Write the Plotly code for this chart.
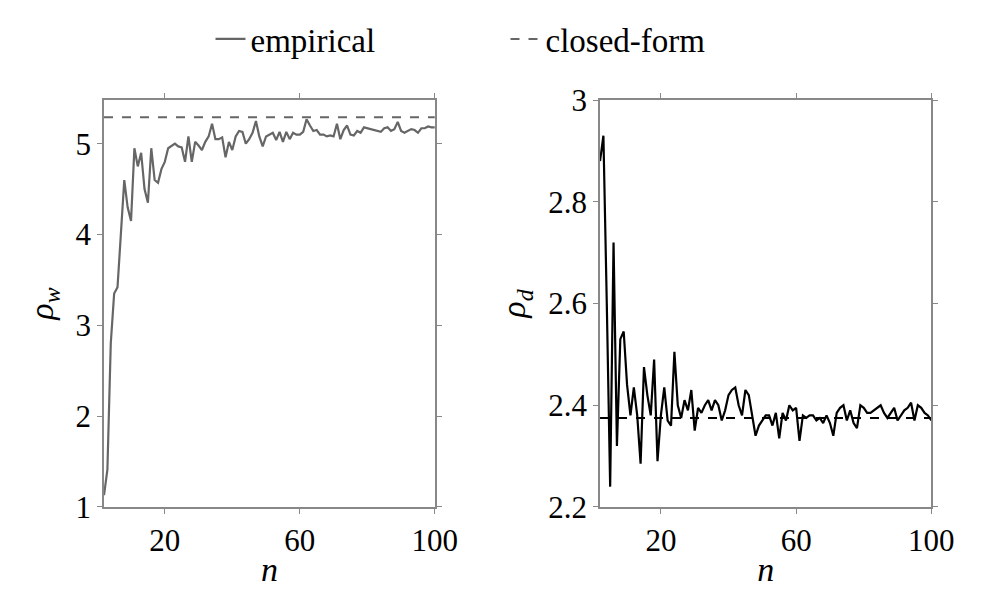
import plotly.graph_objects as go

n = list(range(2, 101))
rho_w = [1.13, 1.41, 2.8, 3.35, 3.42, 4.0, 4.6, 4.3, 4.15, 4.95, 4.75, 4.9, 4.5, 4.35, 4.95, 4.6, 4.57, 4.72, 4.8,
         4.95, 4.98, 5.0, 4.97, 4.96, 4.8, 5.08, 4.8, 5.02, 4.98, 4.93, 5.02, 5.08, 5.22, 5.05, 5.05, 5.07, 4.85,
         5.02, 4.93, 5.08, 5.14, 5.13, 5.0, 5.05, 5.12, 5.25, 5.08, 4.97, 5.08, 5.1, 5.12, 5.04, 5.13, 5.02, 5.13,
         5.05, 5.12, 5.1, 5.1, 5.13, 5.27, 5.2, 5.14, 5.15, 5.1, 5.1, 5.08, 5.09, 5.08, 5.22, 5.05, 5.15, 5.2, 5.1,
         5.09, 5.14, 5.12, 5.18, 5.17, 5.16, 5.15, 5.14, 5.13, 5.17, 5.18, 5.14, 5.16, 5.24, 5.14, 5.12, 5.14,
         5.16, 5.15, 5.12, 5.17, 5.17, 5.19, 5.18, 5.18]
rho_w_closed = 5.29
rho_d = [2.88, 2.93, 2.6, 2.24, 2.72, 2.32, 2.53, 2.545, 2.44, 2.38, 2.435, 2.38, 2.285, 2.475, 2.42, 2.38, 2.49,
         2.29, 2.38, 2.435, 2.37, 2.36, 2.505, 2.40, 2.375, 2.41, 2.39, 2.43, 2.35, 2.395, 2.385, 2.40, 2.41, 2.39,
         2.41, 2.40, 2.37, 2.39, 2.42, 2.43, 2.435, 2.40, 2.38, 2.43, 2.42, 2.375, 2.34, 2.36, 2.37, 2.38, 2.38,
         2.36, 2.385, 2.335, 2.385, 2.37, 2.40, 2.39, 2.395, 2.33, 2.38, 2.375, 2.38, 2.38, 2.37, 2.375, 2.365,
         2.38, 2.365, 2.34, 2.385, 2.395, 2.40, 2.37, 2.39, 2.365, 2.355, 2.40, 2.395, 2.385, 2.385, 2.39, 2.395,
         2.40, 2.385, 2.375, 2.385, 2.395, 2.37, 2.38, 2.39, 2.395, 2.405, 2.37, 2.40, 2.395, 2.385, 2.38, 2.37]
rho_d_closed = 2.375

FONT = "Liberation Serif"
fig = go.Figure()
fig.add_trace(go.Scatter(x=n, y=rho_w, mode="lines", line=dict(color="#666666", width=2.2),
                         name="empirical", xaxis="x", yaxis="y"))
fig.add_trace(go.Scatter(x=[n[0], n[-1]], y=[rho_w_closed] * 2, mode="lines",
                         line=dict(color="#666666", width=2, dash="dash"), name="closed-form", xaxis="x", yaxis="y"))
fig.add_trace(go.Scatter(x=n, y=rho_d, mode="lines", line=dict(color="black", width=2.2),
                         showlegend=False, xaxis="x2", yaxis="y2"))
fig.add_trace(go.Scatter(x=[n[0], n[-1]], y=[rho_d_closed] * 2, mode="lines",
                         line=dict(color="black", width=2, dash="dash"), showlegend=False, xaxis="x2", yaxis="y2"))

ax = dict(showgrid=False, zeroline=False, showline=True, linecolor="#888888", linewidth=1.5, mirror="ticks",
          ticks="outside", ticklen=5, tickcolor="#888888", automargin=False,
          tickfont=dict(family=FONT, size=31, color="black"))
tf = dict(size=34, family=FONT)
fig.update_layout(
    width=995, height=598, plot_bgcolor="white", paper_bgcolor="white",
    margin=dict(l=0, r=0, t=0, b=0),
    font=dict(family=FONT, color="black"),
    xaxis=dict(ax, domain=[0.0965, 0.429], range=[2, 100], tickvals=[20, 60, 100],
               title=dict(text="<i>n</i>", font=tf, standoff=0)),
    yaxis=dict(ax, domain=[0.1656, 0.846], range=[1, 5.48], tickvals=[1, 2, 3, 4, 5],
               title=dict(text="<i>ρ<sub>w</sub></i>", font=tf, standoff=12)),
    xaxis2=dict(ax, domain=[0.595, 0.928], range=[2, 100], tickvals=[20, 60, 100], anchor="y2",
                title=dict(text="<i>n</i>", font=tf, standoff=0)),
    yaxis2=dict(ax, domain=[0.1656, 0.846], range=[2.2, 3.0], tickvals=[2.2, 2.4, 2.6, 2.8, 3.0],
                ticktext=["2.2", "2.4", "2.6", "2.8", "3"], anchor="x2",
                title=dict(text="<i>ρ<sub>d</sub></i>", font=tf, standoff=12)),
    legend=dict(orientation="h", x=0.5, xanchor="center", y=0.995, yanchor="top",
                font=dict(family=FONT, size=33, color="black"), entrywidth=250, bgcolor="rgba(0,0,0,0)"),
)
fig.write_html("out.html")
